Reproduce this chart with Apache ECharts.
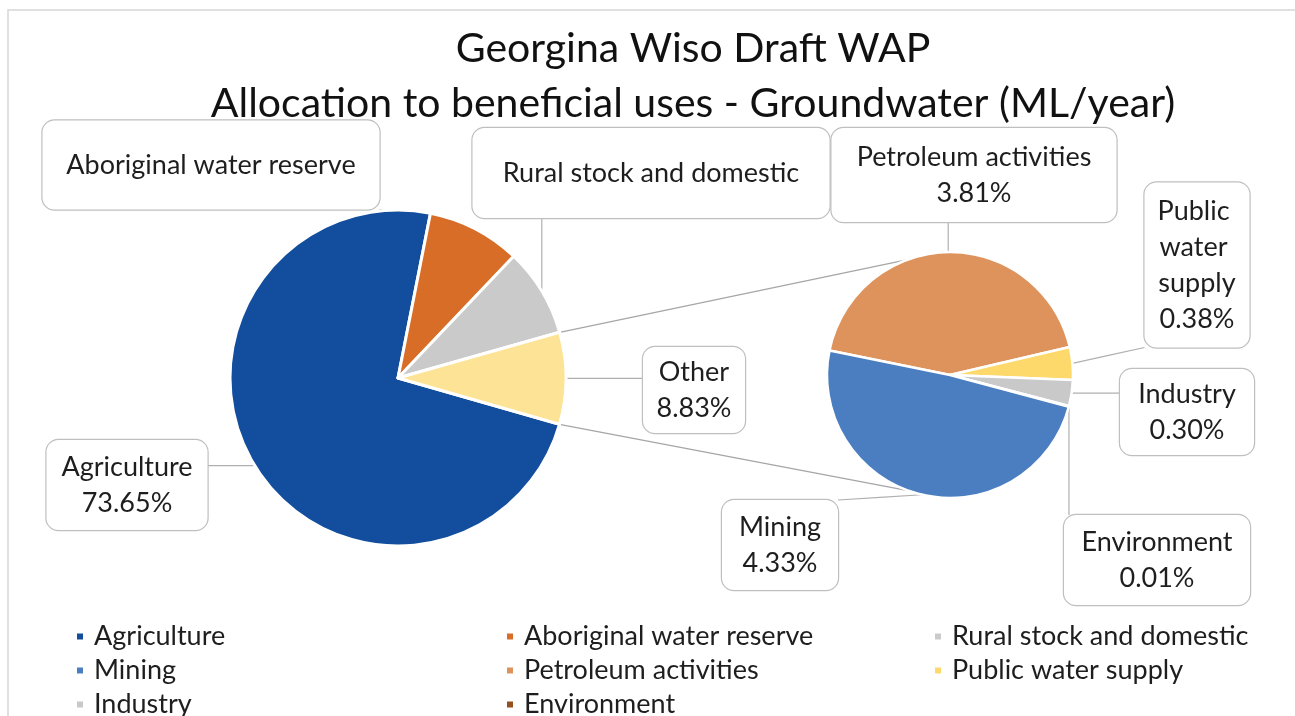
<!DOCTYPE html>
<html><head><meta charset="utf-8">
<script src="https://cdn.jsdelivr.net/npm/echarts@6/dist/echarts.min.js"></script>
<style>html,body{margin:0;padding:0;background:#fff}#c{width:1295px;height:716px}</style>
</head><body><div id="c"></div>
<script>
// ---- data ----
const titleLines = ['Georgina Wiso Draft WAP', 'Allocation to beneficial uses - Groundwater (ML/year)'];
const mainNames = ['Agriculture', 'Aboriginal water reserve', 'Rural stock and domestic', 'Other'];
const mainValues = [73.65, 9.00, 8.52, 8.83];
const subNames = ['Petroleum activities', 'Public water supply', 'Industry', 'Environment', 'Mining'];
const subValues = [3.81, 0.38, 0.30, 0.01, 4.33];
const namesWithoutPercent = ['Aboriginal water reserve', 'Rural stock and domestic'];
const legendCols = [
  ['Agriculture', 'Mining', 'Industry'],
  ['Aboriginal water reserve', 'Petroleum activities', 'Environment'],
  ['Rural stock and domestic', 'Public water supply']
];

// ---- styles / layout ----
const FONT = 'Lato, "Open Sans", sans-serif';
const colors = {
  'Agriculture': '#124e9d',
  'Aboriginal water reserve': '#d86d27',
  'Rural stock and domestic': '#cacaca',
  'Other': '#fde395',
  'Petroleum activities': '#de935c',
  'Public water supply': '#fdd96c',
  'Industry': '#c9c9c9',
  'Environment': '#94501f',
  'Mining': '#4a7ec0'
};
const MAIN = {cx: 398, cy: 378, r: 168, start: -16};
const SUB = {cx: 950, cy: 375, r: 123, start: 168.5};
const LH = 36;
// label boxes: centerX, centerY, width, height, lines
const boxes = {
  'Aboriginal water reserve': [211, 165, 337, 89, 1],
  'Rural stock and domestic': [651, 173, 357, 90, 1],
  'Agriculture': [127, 485, 161, 90, 2],
  'Other': [694, 390, 102, 86, 2],
  'Petroleum activities': [974, 175, 285, 94, 2],
  'Public water supply': [1197, 265, 105, 165, 4],
  'Industry': [1187, 412, 134, 86, 2],
  'Environment': [1157, 560, 186, 90, 2],
  'Mining': [780, 545, 116, 90, 2]
};

function fmt(p) {
  if (namesWithoutPercent.indexOf(p.name) >= 0) return p.name;
  return p.name + '\n' + Number(p.value).toFixed(2) + '%';
}
function labelFor(name) {
  const b = boxes[name];
  const padH = 3;
  const padV = Math.max(0, (b[3] - b[4] * LH) / 2);
  return {
    width: b[2] - 2 * padH,
    padding: [padV, padH],
    overflow: 'break'
  };
}
function makeData(names, values) {
  return names.map((n, i) => ({
    name: n, value: values[i],
    itemStyle: {color: colors[n]},
    label: labelFor(n)
  }));
}
function layoutFor(names) {
  return function (params) {
    const b = boxes[names[params.dataIndex]];
    if (!b) return {};
    const [cx, cy, w, h] = b;
    const res = {x: cx, y: cy, align: 'center', verticalAlign: 'middle'};
    const pts = params.labelLinePoints;
    if (pts && pts.length) {
      const p0 = pts[0];
      const ex = Math.min(Math.max(p0[0], cx - w / 2), cx + w / 2);
      const ey = Math.min(Math.max(p0[1], cy - h / 2), cy + h / 2);
      res.labelLinePoints = [p0, [(p0[0] + ex) / 2, (p0[1] + ey) / 2], [ex, ey]];
    }
    return res;
  };
}
const labelBase = {
  show: true, position: 'outside', formatter: fmt,
  fontFamily: FONT, fontSize: 27, lineHeight: LH, color: '#1e1e1e',
  backgroundColor: '#fff', borderColor: '#bfbfbf', borderWidth: 1.2, borderRadius: 12
};
const labelLineBase = {show: true, length: 10, length2: 10, lineStyle: {color: '#b0b0b0', width: 1.2}};

// connector lines of the pie-of-pie, derived from the "Other" slice geometry
function pt(c, mathDeg, r) {
  const a = mathDeg * Math.PI / 180;
  return [c.cx + r * Math.cos(a), c.cy - r * Math.sin(a)];
}
const total = mainValues.reduce((a, b) => a + b, 0);
const oi = mainNames.indexOf('Other');
const cumBefore = mainValues.slice(0, oi).reduce((a, b) => a + b, 0);
const otherStart = MAIN.start - 360 * cumBefore / total;
const otherEnd = MAIN.start - 360 * (cumBefore + mainValues[oi]) / total;
const c1a = pt(MAIN, otherStart, MAIN.r), c1b = pt(SUB, 93, SUB.r);
const c2a = pt(MAIN, otherEnd, MAIN.r), c2b = pt(SUB, -110, SUB.r);

const legendLefts = [70, 500, 928];
const legends = legendCols.map((col, i) => ({
  data: col, orient: 'vertical', left: legendLefts[i], top: 618, height: 140,
  icon: 'rect', itemWidth: 8, itemHeight: 8, itemGap: 7,
  selectedMode: false,
  textStyle: {fontFamily: FONT, fontSize: 27, lineHeight: 27, color: '#1e1e1e', padding: [0, 0, 0, 5]}
}));

const chart = echarts.init(document.getElementById('c'), null, {renderer: 'canvas'});
chart.setOption({
  backgroundColor: '#fff',
  animation: false,
  title: {
    text: titleLines.join('\n'), left: 688, top: 16, textAlign: 'center',
    textStyle: {fontFamily: FONT, fontSize: 41, lineHeight: 55, fontWeight: 'normal', color: '#111'}
  },
  legend: legends,
  graphic: [
    {type: 'rect', shape: {x: 8, y: 10, width: 1300, height: 720}, style: {fill: null, stroke: '#d6d6d6', lineWidth: 1.5}, silent: true},
    {type: 'line', shape: {x1: c1a[0], y1: c1a[1], x2: c1b[0], y2: c1b[1]}, style: {stroke: '#a6a6a6', lineWidth: 1.2}, z: 0},
    {type: 'line', shape: {x1: c2a[0], y1: c2a[1], x2: c2b[0], y2: c2b[1]}, style: {stroke: '#a6a6a6', lineWidth: 1.2}, z: 0}
  ],
  series: [
    {
      type: 'pie', center: [MAIN.cx, MAIN.cy], radius: MAIN.r, startAngle: MAIN.start,
      clockwise: true, avoidLabelOverlap: false,
      itemStyle: {borderColor: '#fff', borderWidth: 3},
      label: labelBase, labelLine: labelLineBase,
      labelLayout: layoutFor(mainNames),
      emphasis: {disabled: true},
      data: makeData(mainNames, mainValues)
    },
    {
      type: 'pie', center: [SUB.cx, SUB.cy], radius: SUB.r, startAngle: SUB.start,
      clockwise: true, avoidLabelOverlap: false, minShowLabelAngle: 0,
      itemStyle: {borderColor: '#fff', borderWidth: 2.5},
      label: labelBase, labelLine: labelLineBase,
      labelLayout: layoutFor(subNames),
      emphasis: {disabled: true},
      data: makeData(subNames, subValues)
    }
  ]
});
</script></body></html>
